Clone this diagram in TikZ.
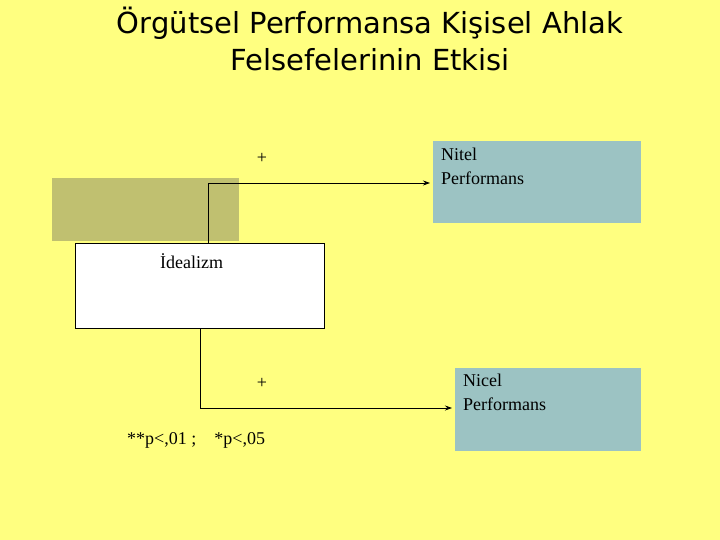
\documentclass[tikz,border=0pt]{standalone}
\usepackage{fontspec}
\setmainfont{Liberation Serif}
\newfontfamily\titlefont{DejaVu Sans}
\usetikzlibrary{arrows.meta}
\definecolor{bg}{HTML}{FFFF80}
\definecolor{olive}{HTML}{C0C070}
\definecolor{teal}{HTML}{9CC3C3}
\begin{document}
\begin{tikzpicture}[x=1pt,y=-1pt,
  lbl/.style={font=\fontsize{18}{24}\selectfont,align=left,inner sep=0pt},
  conn/.style={draw=black,line width=0.8pt,-{Stealth[length=7pt,width=5pt]}}]
\fill[bg] (0,0) rectangle (720,540);
\useasboundingbox (0,0) rectangle (720,540);
\node[font=\titlefont\fontsize{29}{37}\selectfont,align=center] (title) at (370,39) {Örgütsel Performansa Kişisel Ahlak\\Felsefelerinin Etkisi};
\node[fill=olive,minimum width=187,minimum height=63,inner sep=0pt,anchor=north west] (olive) at (52,178) {};
\node[fill=white,draw=black,minimum width=249,minimum height=85,inner sep=0pt,anchor=north west] (ideal) at (75,243) {};
\node[lbl,anchor=west] (idl) at (160,261) {İdealizm};
\node[fill=teal,minimum width=208,minimum height=82,inner sep=0pt,anchor=north west] (nitel) at (433,141) {};
\node[fill=teal,minimum width=186,minimum height=83,inner sep=0pt,anchor=north west] (nicel) at (455,368) {};
\node[lbl,anchor=north west] (nitelt) at (441,148) {Nitel\\Performans};
\node[lbl,anchor=north west] (nicelt) at (463,374) {Nicel\\Performans};
\node[lbl] (p1) at (262,158) {+};
\node[lbl] (p2) at (262,383) {+};
\node[lbl,anchor=west] (sig) at (127,440) {**p<,01 ;\quad *p<,05};
\coordinate (a1) at (208,243);
\coordinate (a2) at (208,183);
\coordinate (a3) at (430,183);
\coordinate (b1) at (200,328);
\coordinate (b2) at (200,408);
\coordinate (b3) at (452,408);
\draw[conn] (a1) -- (a2) -- (a3);
\draw[conn] (b1) -- (b2) -- (b3);
\end{tikzpicture}
\end{document}
